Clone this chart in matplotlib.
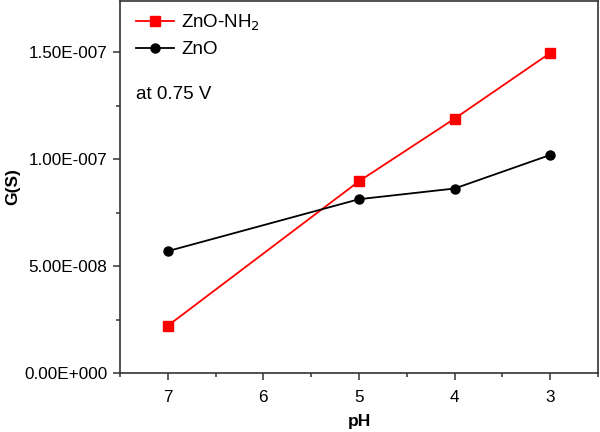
import matplotlib
matplotlib.use("Agg")
import matplotlib.pyplot as plt
from matplotlib.ticker import FixedLocator, FuncFormatter, MultipleLocator

plt.rcParams["font.family"] = ["Liberation Sans", "DejaVu Sans"]

# values
ph = [7, 5, 4, 3]
g_znonh2 = [2.21e-8, 8.97e-8, 1.19e-7, 1.497e-7]
g_zno = [5.70e-8, 8.13e-8, 8.63e-8, 1.02e-7]
y_ticks = [0.0, 5e-8, 1e-7, 1.5e-7]


def origin_sci(v, pos):
    # Origin-style labels, e.g. 1.50E-007
    if v == 0:
        return "0.00E+000"
    mant, exp = f"{v:.2E}".split("E")
    sign = exp[0]
    return f"{mant}E{sign}{int(exp[1:]):03d}"


fig = plt.figure(figsize=(6, 4.32), dpi=100)
ax = fig.add_axes([0.2, 0.1366, 0.7967, 0.861])

ax.plot(ph, g_znonh2, color="#ff0000", marker="s", markersize=6.5, linewidth=1.3,
        label="ZnO-NH$_2$")
ax.plot(ph, g_zno, color="black", marker="o", markersize=6.5, linewidth=1.3,
        label="ZnO")

ax.set_xlim(7.5, 2.5)
ax.set_ylim(0, 1.74e-7)
ax.xaxis.set_major_locator(MultipleLocator(1))
ax.xaxis.set_minor_locator(MultipleLocator(0.5))
ax.yaxis.set_major_locator(FixedLocator(y_ticks))
ax.yaxis.set_minor_locator(MultipleLocator(2.5e-8))
ax.yaxis.set_major_formatter(FuncFormatter(origin_sci))

for side in ["left", "bottom", "top", "right"]:
    ax.spines[side].set_color("#333333")
    ax.spines[side].set_linewidth(1.2)
ax.tick_params(which="both", direction="out", colors="#333333",
               labelcolor="black", labelsize=12.3, top=False, right=False)
ax.tick_params(which="major", length=5, width=1.1)
ax.tick_params(axis="x", which="major", pad=7)
ax.tick_params(axis="y", which="major", pad=4)
ax.tick_params(which="minor", length=3, width=1.1)

ax.set_xlabel("pH", fontsize=12.5, fontweight="bold", labelpad=6.5)
ax.set_ylabel("G(S)", fontsize=12.5, fontweight="bold", labelpad=3)

ax.legend(loc="upper left", frameon=False, fontsize=13.5, handlelength=2.0,
          handletextpad=0.4, borderaxespad=0.2, labelspacing=0.45,
          bbox_to_anchor=(0.01, 1.0))
ax.text(0.0335, 0.75, "at 0.75 V", transform=ax.transAxes, fontsize=13.5,
        va="center")

fig.savefig("out.png", dpi=100)
